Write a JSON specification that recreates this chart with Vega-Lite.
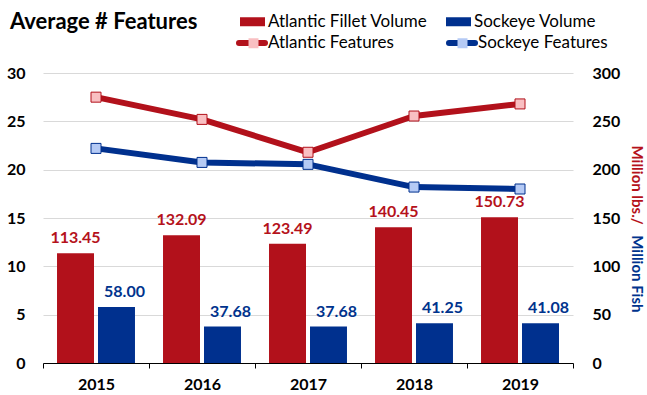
{
  "$schema": "https://vega.github.io/schema/vega-lite/v6.json",
  "width": 530,
  "height": 290,
  "autosize": {"type": "none"},
  "padding": {"left": 43, "top": 73, "right": 74, "bottom": 32},
  "config": {"view": {"stroke": null}, "font": "Lato"},
  "title": {
    "text": "Average # Features",
    "anchor": "start",
    "frame": "group",
    "font": "Lato",
    "fontSize": 22,
    "fontWeight": "bold",
    "color": "#000000",
    "baseline": "alphabetic",
    "offset": -42,
    "dx": -33
  },
  "datasets": {
    "bars": [
      {"year": "2015", "series": "Atlantic Fillet Volume", "volume": 113.45},
      {"year": "2015", "series": "Sockeye Volume", "volume": 58.00},
      {"year": "2016", "series": "Atlantic Fillet Volume", "volume": 132.09},
      {"year": "2016", "series": "Sockeye Volume", "volume": 37.68},
      {"year": "2017", "series": "Atlantic Fillet Volume", "volume": 123.49},
      {"year": "2017", "series": "Sockeye Volume", "volume": 37.68},
      {"year": "2018", "series": "Atlantic Fillet Volume", "volume": 140.45},
      {"year": "2018", "series": "Sockeye Volume", "volume": 41.25},
      {"year": "2019", "series": "Atlantic Fillet Volume", "volume": 150.73},
      {"year": "2019", "series": "Sockeye Volume", "volume": 41.08}
    ],
    "lines": [
      {"year": "2015", "series": "Atlantic Features", "marker": "Atlantic Features", "features": 27.5},
      {"year": "2016", "series": "Atlantic Features", "marker": "Atlantic Features", "features": 25.2},
      {"year": "2017", "series": "Atlantic Features", "marker": "Atlantic Features", "features": 21.8},
      {"year": "2018", "series": "Atlantic Features", "marker": "Atlantic Features", "features": 25.55},
      {"year": "2019", "series": "Atlantic Features", "marker": "Atlantic Features", "features": 26.8},
      {"year": "2015", "series": "Sockeye Features", "marker": "Sockeye Features", "features": 22.2},
      {"year": "2016", "series": "Sockeye Features", "marker": "Sockeye Features", "features": 20.75},
      {"year": "2017", "series": "Sockeye Features", "marker": "Sockeye Features", "features": 20.55},
      {"year": "2018", "series": "Sockeye Features", "marker": "Sockeye Features", "features": 18.2},
      {"year": "2019", "series": "Sockeye Features", "marker": "Sockeye Features", "features": 18.0}
    ]
  },
  "layer": [
    {
      "data": {"name": "bars"},
      "layer": [
        {
          "mark": {"type": "bar"},
          "encoding": {
            "x": {
              "field": "year", "type": "ordinal",
              "scale": {"paddingInner": 0, "paddingOuter": 0},
              "axis": {
                "title": null, "labelFont": "Lato", "labelFontSize": 16, "labelFontWeight": "bold",
                "labelColor": "#000000", "labelAngle": 0, "labelPadding": 8,
                "tickBand": "extent", "tickSize": 5, "tickColor": "#000000", "domainColor": "#000000", "grid": false
              }
            },
            "xOffset": {
              "field": "series", "type": "nominal",
              "scale": {"domain": ["Atlantic Fillet Volume", "Sockeye Volume"], "paddingInner": 0.0976, "paddingOuter": 0.342}
            },
            "y": {
              "field": "volume", "type": "quantitative",
              "scale": {"domain": [0, 300], "nice": false},
              "axis": {
                "orient": "right", "values": [0, 50, 100, 150, 200, 250, 300], "grid": false, "domain": false, "ticks": false,
                "labelFont": "Lato", "labelFontSize": 16, "labelFontWeight": "bold", "labelColor": "#000000", "labelPadding": 19,
                "title": "Million lbs./", "titleColor": "#b5121b", "titleFont": "Lato", "titleFontSize": 15, "titleFontWeight": "bold",
                "titleAngle": 90, "titleX": 63, "titleY": 72, "titleAlign": "left", "titleBaseline": "middle"
              }
            },
            "color": {
              "field": "series", "type": "nominal",
              "scale": {"domain": ["Atlantic Fillet Volume", "Sockeye Volume"], "range": ["#b2111b", "#00308e"]},
              "legend": {
                "title": null, "orient": "none", "legendX": 197, "legendY": -64, "direction": "horizontal", "columns": 2,
                "symbolType": "M-1,-0.36H1V0.36H-1Z", "symbolSize": 625, "symbolStrokeWidth": 0,
                "labelFont": "Lato", "labelFontSize": 17, "labelColor": "#000000", "labelOffset": 3, "columnPadding": 18
              }
            }
          }
        },
        {
          "transform": [{"filter": "datum.series === 'Atlantic Fillet Volume'"}],
          "mark": {"type": "text", "font": "Lato", "fontSize": 16, "fontWeight": "bold", "color": "#b5121b", "baseline": "alphabetic", "dy": -10},
          "encoding": {
            "x": {"field": "year", "type": "ordinal"},
            "xOffset": {"field": "series", "type": "nominal"},
            "y": {"field": "volume", "type": "quantitative"},
            "text": {"field": "volume", "type": "quantitative", "format": ".2f"}
          }
        },
        {
          "transform": [{"filter": "datum.series === 'Sockeye Volume'"}],
          "mark": {"type": "text", "font": "Lato", "fontSize": 16, "fontWeight": "bold", "color": "#00338d", "baseline": "alphabetic", "dy": -10, "dx": 8},
          "encoding": {
            "x": {"field": "year", "type": "ordinal"},
            "xOffset": {"field": "series", "type": "nominal"},
            "y": {"field": "volume", "type": "quantitative"},
            "text": {"field": "volume", "type": "quantitative", "format": ".2f"}
          }
        }
      ]
    },
    {
      "data": {"name": "lines"},
      "layer": [
        {
          "mark": {"type": "line", "strokeWidth": 6, "strokeJoin": "round"},
          "encoding": {
            "x": {"field": "year", "type": "ordinal"},
            "y": {
              "field": "features", "type": "quantitative",
              "scale": {"domain": [0, 30], "nice": false},
              "axis": {
                "orient": "left", "values": [0, 5, 10, 15, 20, 25, 30], "grid": true, "gridColor": "#d9d9d9", "domain": false, "ticks": false,
                "labelFont": "Lato", "labelFontSize": 16, "labelFontWeight": "bold", "labelColor": "#000000", "labelPadding": 18,
                "title": "Million Fish", "titleColor": "#00338d", "titleFont": "Lato", "titleFontSize": 15, "titleFontWeight": "bold",
                "titleAngle": 90, "titleX": 593, "titleY": 239, "titleAlign": "right", "titleBaseline": "middle"
              }
            },
            "stroke": {
              "field": "series", "type": "nominal",
              "scale": {"domain": ["Atlantic Features", "Sockeye Features"], "range": ["#b2111b", "#00308e"]},
              "legend": {
                "title": null, "orient": "none", "legendX": 193, "legendY": -46, "direction": "horizontal", "columns": 2,
                "symbolType": "M-1,0H1", "symbolSize": 676, "symbolStrokeWidth": 6,
                "labelFont": "Lato", "labelFontSize": 17, "labelColor": "#000000", "labelOffset": 0, "columnPadding": 43,
                "encode": {"symbols": {"update": {"strokeCap": {"value": "round"}}}}
              }
            }
          }
        },
        {
          "mark": {"type": "point", "shape": "square", "size": 100, "strokeWidth": 1, "filled": false, "opacity": 1},
          "encoding": {
            "x": {"field": "year", "type": "ordinal"},
            "y": {"field": "features", "type": "quantitative"},
            "stroke": {
              "field": "series", "type": "nominal",
              "scale": {"domain": ["Atlantic Features", "Sockeye Features"], "range": ["#b2111b", "#00308e"]},
              "legend": {
                "title": null, "orient": "none", "legendX": 193, "legendY": -46, "direction": "horizontal", "columns": 2,
                "symbolType": "M-1,0H1", "symbolSize": 676, "symbolStrokeWidth": 6,
                "labelFont": "Lato", "labelFontSize": 17, "labelColor": "#000000", "labelOffset": 0, "columnPadding": 43,
                "encode": {"symbols": {"update": {"strokeCap": {"value": "round"}}}}
              }
            },
            "fill": {
              "field": "marker", "type": "nominal",
              "scale": {"range": ["#f9bfc2", "#b5caf5"]},
              "legend": {
                "title": null, "orient": "none", "legendX": 202, "legendY": -38.5, "direction": "horizontal", "columns": 2,
                "symbolType": "square", "symbolSize": 100, "symbolStrokeWidth": 1,
                "labelFont": "Lato", "labelFontSize": 17, "labelColor": "#000000", "labelExpr": "''", "labelOffset": 0, "columnPadding": 192,
                "encode": {"symbols": {"update": {"stroke": {"signal": "datum.value === 'Atlantic Features' ? '#b2111b' : '#00308e'"}, "strokeWidth": {"value": 1}}}}
              }
            }
          }
        }
      ]
    }
  ],
  "resolve": {"scale": {"y": "independent"}}
}
